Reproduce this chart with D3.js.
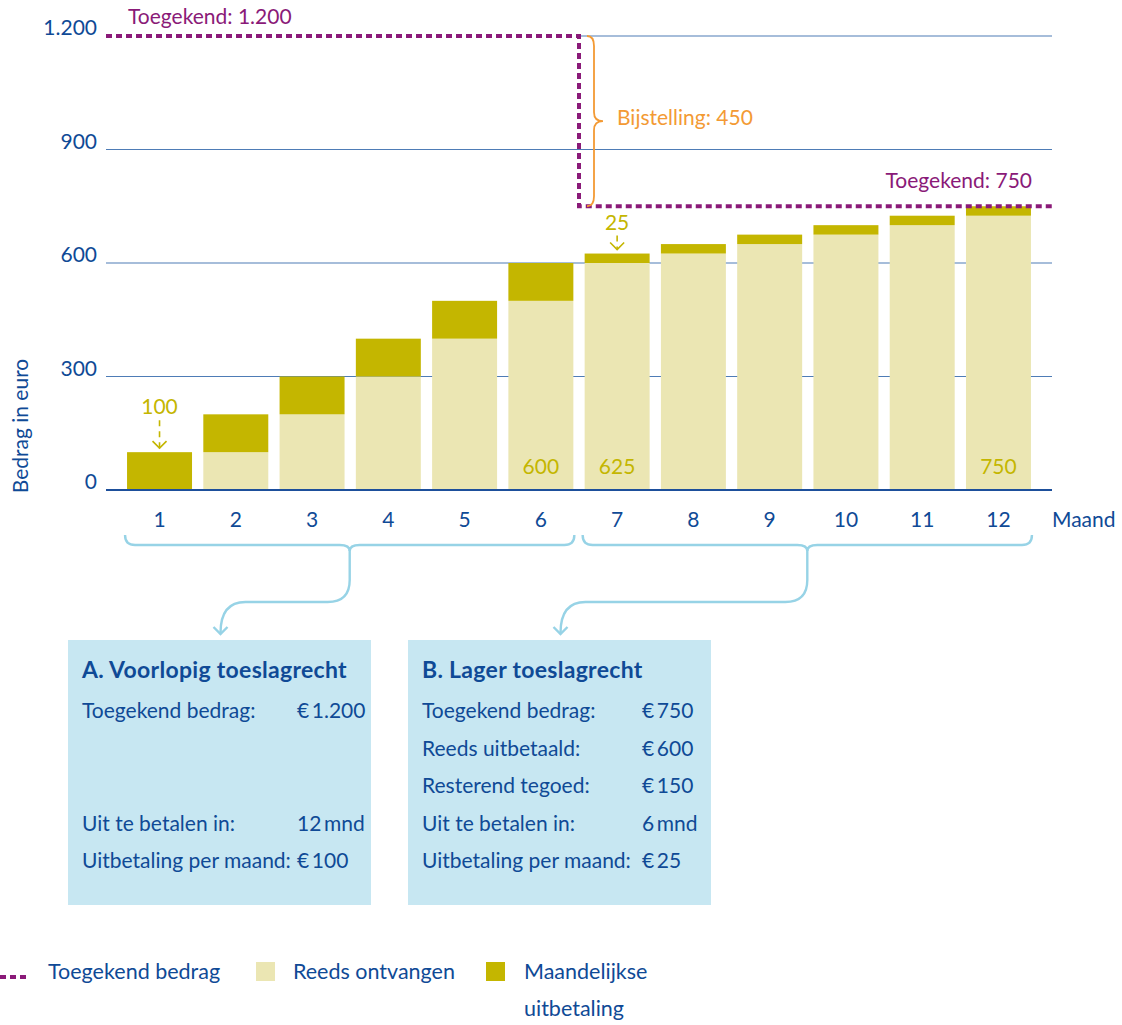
<!DOCTYPE html>
<html>
<head>
<meta charset="utf-8">
<script src="https://cdn.jsdelivr.net/npm/d3@7"></script>
<style>
  body { margin: 0; background: #fff; }
  svg { display: block; font-family: Lato, "Open Sans", sans-serif; font-size: 21px; }
</style>
</head>
<body>
<svg id="chart" width="1122" height="1025"></svg>
<script>
// data
var months = [1, 2, 3, 4, 5, 6, 7, 8, 9, 10, 11, 12];
var received = [0, 100, 200, 300, 400, 500, 600, 625, 650, 675, 700, 725];
var monthly = [100, 100, 100, 100, 100, 100, 25, 25, 25, 25, 25, 25];
var yTicks = [0, 300, 600, 900, 1200];
var granted = [1200, 750];          // first award, lowered award
var adjustment = 450;
var totalLabelMonths = [6, 7, 12];   // months with total written in bar
var periods = [[1, 6], [7, 12]];

var boxTitles = ["A. Voorlopig toeslagrecht", "B. Lager toeslagrecht"];
var boxALabels = ["Toegekend bedrag:", "", "", "Uit te betalen in:", "Uitbetaling per maand:"];
var boxAValues = ["€\u20091.200", "", "", "12\u2009mnd", "€\u2009100"];
var boxBLabels = ["Toegekend bedrag:", "Reeds uitbetaald:", "Resterend tegoed:", "Uit te betalen in:", "Uitbetaling per maand:"];
var boxBValues = ["€\u2009750", "€\u2009600", "€\u2009150", "6\u2009mnd", "€\u200925"];

var legendLabels = ["Toegekend bedrag", "Reeds ontvangen", "Maandelijkse", "uitbetaling"];

// colours
var cBlue = "#0f4a96", cGrid = "#4e7cb6", cAxis = "#1d4f9b",
    cDark = "#c4b600", cLight = "#ebe6b3", cPurple = "#8a1a78",
    cOrange = "#f39a34", cBrace = "#97d3e6", cBox = "#c7e7f2";

var svg = d3.select("#chart");
var plotL = 106, plotR = 1052, yBase = 490, yTop = 36;

var fmt = d3.formatLocale({decimal: ",", thousands: ".", grouping: [3], currency: ["€", ""]}).format(",d");

var x = d3.scaleBand().domain(months).range([121.4, 1036.6]).paddingInner(0.148).paddingOuter(0.074);
var y = d3.scaleLinear().domain([0, 1200]).range([yBase, yTop]);
var bw = x.bandwidth();
var xSplit = (x(6) + bw + x(7)) / 2;

// gridlines
svg.append("g").selectAll("line")
    .data(yTicks.filter(function(d) { return d > 0; }))
    .enter().append("line")
    .attr("x1", function(d) { return d === granted[0] ? xSplit : plotL; })
    .attr("x2", plotR)
    .attr("y1", function(d) { return y(d); })
    .attr("y2", function(d) { return y(d); })
    .attr("stroke", cGrid)
    .attr("stroke-width", 1.2);

// y axis labels
var yAxis = svg.append("g")
    .attr("transform", "translate(" + (plotL - 9) + ",0)")
    .call(d3.axisLeft(y).tickValues(yTicks).tickSize(0).tickPadding(0).tickFormat(fmt));
yAxis.select(".domain").remove();
yAxis.selectAll("text")
    .attr("dy", "-0.05em")
    .attr("fill", cBlue)
    .style("font-size", "21px")
    .style("font-family", "Lato, sans-serif");

svg.append("text")
    .attr("transform", "translate(28,426) rotate(-90)")
    .attr("text-anchor", "middle")
    .attr("fill", cBlue)
    .style("font-size", "21px")
    .text("Bedrag in euro");

// bars
var rows = months.map(function(m, i) { return {m: m, r: received[i], p: monthly[i]}; });

var bar = svg.append("g").selectAll("g")
    .data(rows)
    .enter().append("g");

bar.append("rect")
    .attr("x", function(d) { return x(d.m); })
    .attr("width", bw)
    .attr("y", function(d) { return y(d.r); })
    .attr("height", function(d) { return yBase - y(d.r); })
    .attr("fill", cLight);

bar.append("rect")
    .attr("x", function(d) { return x(d.m); })
    .attr("width", bw)
    .attr("y", function(d) { return y(d.r + d.p); })
    .attr("height", function(d) { return y(d.r) - y(d.r + d.p); })
    .attr("fill", cDark);

svg.append("g").selectAll("text")
    .data(rows.filter(function(d) { return totalLabelMonths.indexOf(d.m) >= 0; }))
    .enter().append("text")
    .attr("x", function(d) { return x(d.m) + bw / 2; })
    .attr("y", yBase - 16)
    .attr("text-anchor", "middle")
    .attr("fill", cDark)
    .text(function(d) { return fmt(d.r + d.p); });

// base line
svg.append("line")
    .attr("x1", plotL).attr("x2", plotR)
    .attr("y1", yBase).attr("y2", yBase)
    .attr("stroke", cAxis).attr("stroke-width", 2);

// x axis labels
var xAxis = svg.append("g")
    .attr("transform", "translate(0," + yBase + ")")
    .call(d3.axisBottom(x).tickSize(0).tickPadding(22));
xAxis.select(".domain").remove();
xAxis.selectAll("text")
    .attr("fill", cBlue)
    .style("font-size", "21px")
    .style("font-family", "Lato, sans-serif");

svg.append("text")
    .attr("x", plotR).attr("y", 527)
    .attr("fill", cBlue)
    .text("Maand");

// monthly payment callouts (first month of each period)
var calloutLen = [30, 16];
periods.forEach(function(p, k) {
    var i = months.indexOf(p[0]);
    var cx = x(p[0]) + bw / 2;
    var topY = y(received[i] + monthly[i]);
    var L = calloutLen[k];
    svg.append("text")
        .attr("x", cx).attr("y", topY - L - 8)
        .attr("text-anchor", "middle")
        .attr("fill", cDark)
        .text(fmt(monthly[i]));
    svg.append("line")
        .attr("x1", cx).attr("x2", cx)
        .attr("y1", topY - L - 2).attr("y2", topY - 4)
        .attr("stroke", cDark).attr("stroke-width", 1.6)
        .attr("stroke-dasharray", "6,5");
    svg.append("path")
        .attr("d", "M" + (cx - 7) + "," + (topY - 11) + "L" + cx + "," + (topY - 4) + "L" + (cx + 7) + "," + (topY - 11))
        .attr("fill", "none").attr("stroke", cDark).attr("stroke-width", 1.6);
});

// granted amount (dashed)
svg.append("path")
    .attr("d", "M" + plotL + "," + y(granted[0]) + "H" + xSplit + "V" + y(granted[1]) + "H" + plotR)
    .attr("fill", "none")
    .attr("stroke", cPurple)
    .attr("stroke-width", 4)
    .attr("stroke-dasharray", "6,4");

svg.append("text")
    .attr("x", 128).attr("y", 24)
    .attr("fill", cPurple)
    .text("Toegekend: " + fmt(granted[0]));

svg.append("text")
    .attr("x", 1032).attr("y", 188)
    .attr("text-anchor", "end")
    .attr("fill", cPurple)
    .text("Toegekend: " + fmt(granted[1]));

// adjustment brace
var b0 = y(granted[0]), b1 = y(granted[1]), bm = (b0 + b1) / 2, bx = xSplit + 8;
svg.append("path")
    .attr("d", "M" + bx + "," + b0 + "Q" + (bx + 7) + "," + b0 + " " + (bx + 7) + "," + (b0 + 10) +
        "V" + (bm - 9) + "Q" + (bx + 7) + "," + bm + " " + (bx + 16) + "," + bm +
        "Q" + (bx + 7) + "," + bm + " " + (bx + 7) + "," + (bm + 9) +
        "V" + (b1 - 10) + "Q" + (bx + 7) + "," + b1 + " " + bx + "," + b1)
    .attr("fill", "none").attr("stroke", cOrange).attr("stroke-width", 1.8);

svg.append("text")
    .attr("x", bx + 30).attr("y", y((granted[0] + granted[1]) / 2) + 4)
    .attr("fill", cOrange)
    .text("Bijstelling: " + fmt(adjustment));

// period braces and boxes
var boxX = [68, 408], boxY = 640, boxW = 303, boxH = 265;
var boxLabels = [boxALabels, boxBLabels], boxValues = [boxAValues, boxBValues];
var valueX = [297, 642];

periods.forEach(function(p, k) {
    var xa = x(p[0]) - 2, xb = x(p[1]) + bw + 1, mid = (xa + xb) / 2;
    var ax = boxX[k] + boxW / 2 + 1;
    var yb = 545;
    svg.append("path")
        .attr("d", "M" + xa + "," + (yb - 10) + "Q" + xa + "," + yb + " " + (xa + 10) + "," + yb +
            "H" + (mid - 10) + "Q" + mid + "," + yb + " " + mid + "," + (yb + 6) +
            "Q" + mid + "," + yb + " " + (mid + 10) + "," + yb +
            "H" + (xb - 10) + "Q" + xb + "," + yb + " " + xb + "," + (yb - 10))
        .attr("fill", "none").attr("stroke", cBrace).attr("stroke-width", 2.4);
    svg.append("path")
        .attr("d", "M" + mid + "," + (yb + 5) + "V580" + "Q" + mid + ",602 " + (mid - 22) + ",602" +
            "H" + (ax + 25) + "Q" + ax + ",602 " + ax + ",633")
        .attr("fill", "none").attr("stroke", cBrace).attr("stroke-width", 2.4);
    svg.append("path")
        .attr("d", "M" + (ax - 7) + ",627L" + ax + ",634L" + (ax + 7) + ",627")
        .attr("fill", "none").attr("stroke", cBrace).attr("stroke-width", 2.4);

    var g = svg.append("g");
    g.append("rect")
        .attr("x", boxX[k]).attr("y", boxY)
        .attr("width", boxW).attr("height", boxH)
        .attr("fill", cBox);
    g.append("text")
        .attr("x", boxX[k] + 14).attr("y", boxY + 38)
        .attr("fill", cBlue)
        .style("font-size", "23px").style("font-weight", "bold")
        .style("letter-spacing", "0.3px")
        .text(boxTitles[k]);
    g.selectAll(".lbl")
        .data(boxLabels[k])
        .enter().append("text")
        .attr("x", boxX[k] + 14)
        .attr("y", function(d, i) { return boxY + 78 + i * 37.5; })
        .attr("fill", cBlue)
        .style("font-size", "21px")
        .text(function(d) { return d; });
    g.selectAll(".val")
        .data(boxValues[k])
        .enter().append("text")
        .attr("x", valueX[k])
        .attr("y", function(d, i) { return boxY + 78 + i * 37.5; })
        .attr("fill", cBlue)
        .style("font-size", "21px")
        .text(function(d) { return d; });
});

// legend
var ly = 979;
svg.append("line")
    .attr("x1", 0).attr("x2", 30)
    .attr("y1", ly - 2).attr("y2", ly - 2)
    .attr("stroke", cPurple).attr("stroke-width", 4)
    .attr("stroke-dasharray", "6,4");
svg.append("text").attr("x", 48).attr("y", ly)
    .attr("fill", cBlue).style("font-size", "21.5px").text(legendLabels[0]);
svg.append("rect").attr("x", 256).attr("y", ly - 17).attr("width", 19).attr("height", 19).attr("fill", cLight);
svg.append("text").attr("x", 293).attr("y", ly)
    .attr("fill", cBlue).style("font-size", "21.5px").text(legendLabels[1]);
svg.append("rect").attr("x", 486).attr("y", ly - 17).attr("width", 19).attr("height", 19).attr("fill", cDark);
svg.append("text").attr("x", 524).attr("y", ly)
    .attr("fill", cBlue).style("font-size", "21.5px").text(legendLabels[2]);
svg.append("text").attr("x", 524).attr("y", ly + 37)
    .attr("fill", cBlue).style("font-size", "21.5px").text(legendLabels[3]);
</script>
</body>
</html>
